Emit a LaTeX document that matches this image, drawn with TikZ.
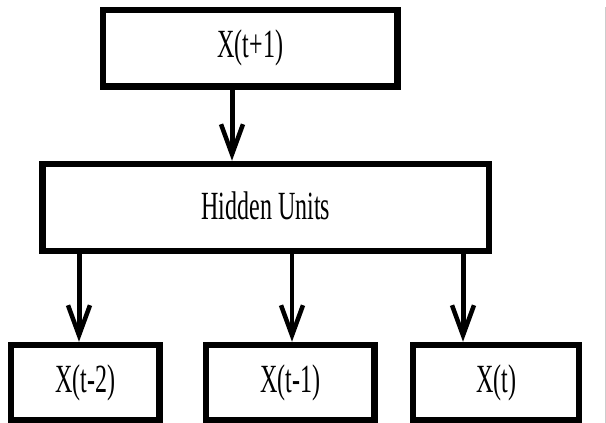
\documentclass[tikz,border=0pt]{standalone}
\usepackage{fontspec}
\setmainfont{Liberation Serif}
\usetikzlibrary{arrows.meta}
\newcommand{\lbl}[1]{\scalebox{0.6}[1]{#1}}
\begin{document}
\begin{tikzpicture}[x=1pt,y=-1pt,
  box/.style={draw=black, line width=6.5pt, fill=white, inner sep=0pt,
    font=\fontsize{40}{40}\selectfont},
  arr/.style={line width=5pt, -{Straight Barb[length=30pt,width=22pt,line width=4.5pt]}}]
\useasboundingbox (0,0) rectangle (606,423);
\fill[white] (0,0) rectangle (606,423);
\draw[line width=1pt, gray!40] (605,7) -- (605,423);

\node[box, minimum width=294.5pt, minimum height=76.5pt] (top) at (250.25,48.25) {\lbl{X(t+1)}};
\node[box, minimum width=446.5pt, minimum height=87pt] (hidden) at (265.75,207.5) {\raisebox{3pt}{\lbl{Hidden Units}}};
\node[box, minimum width=148.5pt, minimum height=75pt] (b1) at (85.25,382.5) {\lbl{X(t-2)}};
\node[box, minimum width=168.5pt, minimum height=75pt] (b2) at (290.25,382.5) {\lbl{X(t-1)}};
\node[box, minimum width=166pt, minimum height=75pt] (b3) at (496,382.5) {\lbl{X(t)}};

\coordinate (c0) at (232,0);
\coordinate (c1) at (79,0);
\coordinate (c2) at (292,0);
\coordinate (c3) at (463,0);

\draw[arr] (top.south -| c0) -- (hidden.north -| c0);
\draw[arr] (hidden.south -| c1) -- (b1.north -| c1);
\draw[arr, line width=3.5pt] (hidden.south -| c2) -- (b2.north -| c2);
\draw[arr] (hidden.south -| c3) -- (b3.north -| c3);
\end{tikzpicture}
\end{document}
